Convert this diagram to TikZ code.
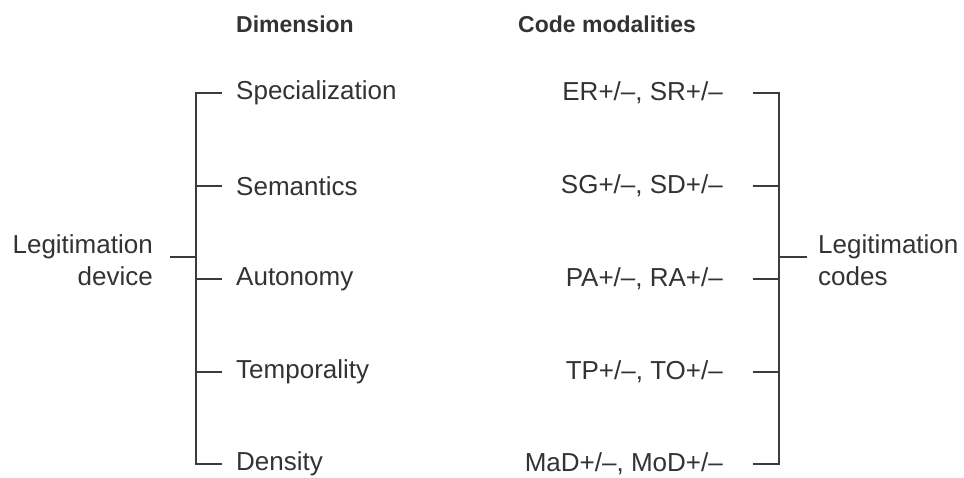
\documentclass[tikz,border=0pt]{standalone}
\usepackage{fontspec}
\setmainfont{Liberation Sans}
\usetikzlibrary{positioning}

\definecolor{inkgray}{HTML}{333333}
\definecolor{linegray}{HTML}{3C3C3C}

\tikzset{
  label text/.style={text=inkgray,font=\fontsize{26}{32}\selectfont,inner sep=0pt},
  head text/.style={text=inkgray,font=\fontsize{23}{28}\selectfont\bfseries,inner sep=0pt,anchor=west},
  dim text/.style={label text,anchor=west},
  code text/.style={label text,anchor=east},
  bracket/.style={draw=linegray,line width=2.2pt}
}

\begin{document}
\begin{tikzpicture}[x=1pt,y=-1pt]
\useasboundingbox (0,0) rectangle (964,478);

% column heads
\node [head text] (hdim) at (236,24) {Dimension};
\node [head text] (hcode) at (518,24) {Code modalities};

% dimensions and their code modalities
\node [dim text] (spec) at (236,93) {Specialization};
\node [dim text] (sema) at (236,186) {Semantics};
\node [dim text] (auto) at (236,279) {Autonomy};
\node [dim text] (temp) at (236,372) {Temporality};
\node [dim text] (dens) at (236,464) {Density};

\node [code text] (cspec) at (723,93) {ER+/–, SR+/–};
\node [code text] (csema) at (723,186) {SG+/–, SD+/–};
\node [code text] (cauto) at (723,279) {PA+/–, RA+/–};
\node [code text] (ctemp) at (723,372) {TP+/–, TO+/–};
\node [code text] (cdens) at (723,464) {MaD+/–, MoD+/–};

% outer labels
\node [label text,align=right,anchor=east] (device) at (153,260) {Legitimation\\device};
\node [label text,align=left,anchor=west] (codes) at (818,260) {Legitimation\\codes};

% left bracket
\coordinate (ltop) at (196,92);
\coordinate (lbot) at (196,465);
\coordinate (lhub) at (196,257);
\coordinate (ldev) at (170,257);
\draw [bracket] (ltop) -- (lbot);
\draw [bracket] (ldev) -- (lhub);
\foreach \d in {spec,sema,auto,temp,dens}
  \draw [bracket] (ltop |- \d.west) -- ([xshift=-14pt]\d.west);

% right bracket
\coordinate (rtop) at (779,92);
\coordinate (rbot) at (779,465);
\coordinate (rhub) at (779,257);
\coordinate (rcod) at (807,257);
\draw [bracket] (rtop) -- (rbot);
\draw [bracket] (rhub) -- (rcod);
\foreach \c in {cspec,csema,cauto,ctemp,cdens}
  \draw [bracket] ([xshift=30pt]\c.east) -- (rtop |- \c.east);
\end{tikzpicture}
\end{document}
